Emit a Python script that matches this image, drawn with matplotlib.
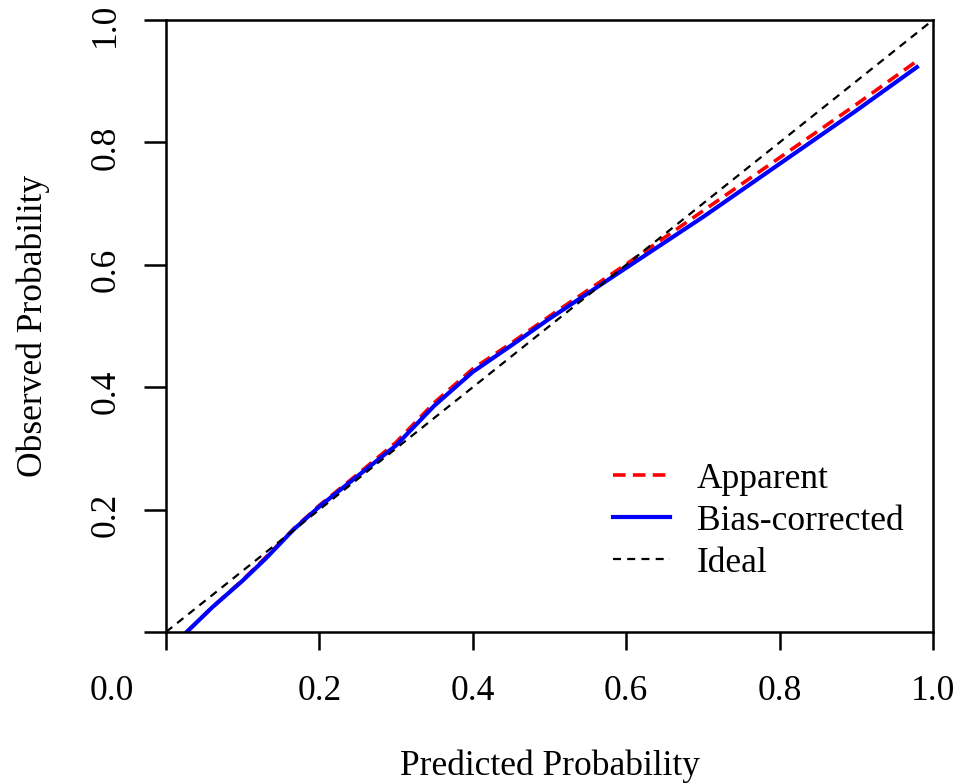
import matplotlib
matplotlib.use('Agg')
import matplotlib.pyplot as plt
from matplotlib.transforms import ScaledTranslation

# Data
pred = [0.027, 0.06, 0.10, 0.13, 0.166, 0.20, 0.25, 0.30, 0.35, 0.40,
        0.45, 0.50, 0.60, 0.70, 0.80, 0.90, 0.979]
apparent = [0.0, 0.040, 0.085, 0.122, 0.168, 0.207, 0.258, 0.310, 0.375, 0.430,
            0.472, 0.516, 0.601, 0.688, 0.775, 0.862, 0.933]
bias_corrected = [0.0, 0.040, 0.084, 0.120, 0.167, 0.205, 0.255, 0.305, 0.370, 0.425,
                  0.468, 0.512, 0.595, 0.678, 0.765, 0.852, 0.923]
ideal = [0.0, 1.0]

x_ticks = [0.0, 0.2, 0.4, 0.6, 0.8, 1.0]
x_tick_labels = ['0.0', '0.2', '0.4', '0.6', '0.8', '1.0']
y_ticks = [0.0, 0.2, 0.4, 0.6, 0.8, 1.0]
y_tick_labels = ['', '0.2', '0.4', '0.6', '0.8', '1.0']

plt.rcParams['font.family'] = ['Liberation Serif', 'DejaVu Serif']
fs = 25.5

fig = plt.figure(figsize=(9.56, 7.83), dpi=100)
ax = fig.add_axes([166 / 956, 1 - 632 / 783, (933 - 166) / 956, (632 - 20) / 783])

ax.plot(pred, apparent, color='red', lw=2.6, linestyle=(0, (3.5, 2)), label='Apparent')
ax.plot(pred, bias_corrected, color='blue', lw=3.0, label='Bias-corrected')
ax.plot(ideal, ideal, color='black', lw=1.6, linestyle=(0, (3.6, 2.8)), label='Ideal')

ax.set_xlim(0, 1)
ax.set_ylim(0, 1)

ax.set_xticks(x_ticks)
ax.set_xticklabels(x_tick_labels)
ax.set_yticks(y_ticks)
ax.set_yticklabels(y_tick_labels)

for s in ax.spines.values():
    s.set_linewidth(1.8)

ax.tick_params(axis='x', length=13, width=1.8, pad=18, labelsize=fs)
ax.tick_params(axis='y', length=16, width=1.8, pad=15.5, labelsize=fs)
down = ScaledTranslation(0, -0.05, fig.dpi_scale_trans)
for lab in ax.get_yticklabels():
    lab.set_rotation(90)
    lab.set_va('center')
    lab.set_ha('right')
    lab.set_transform(lab.get_transform() + down)

# the 0.0 label sits left of its tick in the original
lab0 = ax.get_xticklabels()[0]
lab0.set_transform(lab0.get_transform() + ScaledTranslation(-0.54, 0, fig.dpi_scale_trans))

ax.set_xlabel('Predicted Probability', fontsize=fs, labelpad=30)
ax.set_ylabel('Observed Probability', fontsize=fs, labelpad=28)

leg = ax.legend(loc='center left', bbox_to_anchor=(0.583, 0.181), frameon=False,
                fontsize=fs, handlelength=1.6, handletextpad=0.76, labelspacing=0.25,
                borderpad=0, borderaxespad=0)

plt.savefig('out.png', dpi=100)
